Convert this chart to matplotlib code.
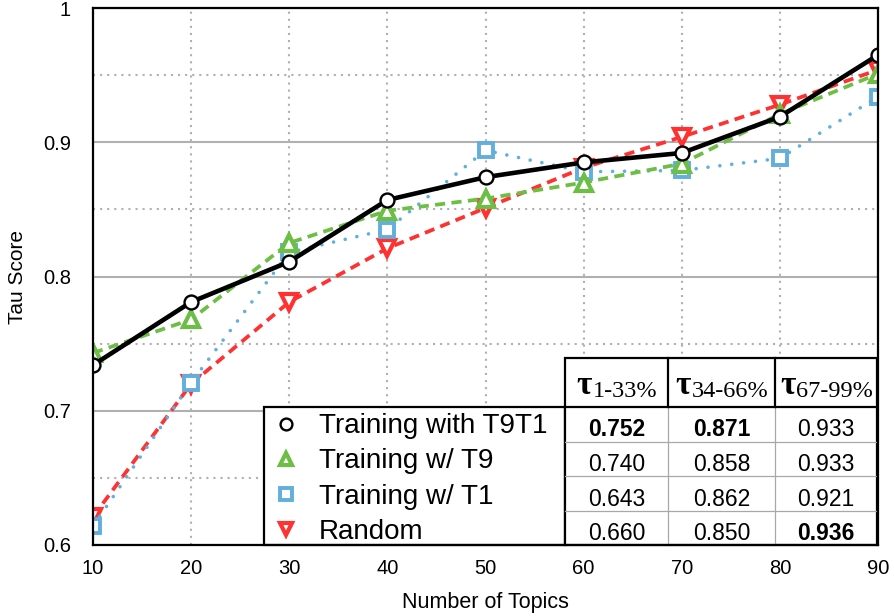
import matplotlib
matplotlib.use('Agg')
import matplotlib.pyplot as plt
from matplotlib.lines import Line2D
from matplotlib.patches import Rectangle

# ---------------- data ----------------
topics = [10, 20, 30, 40, 50, 60, 70, 80, 90]
tau_t9t1 = [0.734, 0.781, 0.811, 0.857, 0.874, 0.885, 0.892, 0.919, 0.965]
tau_t9 = [0.743, 0.768, 0.825, 0.849, 0.858, 0.870, 0.884, 0.921, 0.951]
tau_t1 = [0.614, 0.721, 0.818, 0.835, 0.894, 0.878, 0.879, 0.888, 0.934]
tau_random = [0.621, 0.720, 0.781, 0.821, 0.851, 0.881, 0.904, 0.928, 0.954]
series_labels = ['Training with T9T1', 'Training w/ T9', 'Training w/ T1', 'Random']

x_ticks = [10, 20, 30, 40, 50, 60, 70, 80, 90]
y_ticks = [0.6, 0.7, 0.8, 0.9, 1.0]
y_tick_labels = ['0.6', '0.7', '0.8', '0.9', '1']
y_minor_ticks = [0.65, 0.75, 0.85, 0.95]

table_col_subs = ['1-33%', '34-66%', '67-99%']
table_t9t1 = [0.752, 0.871, 0.933]
table_t9 = [0.740, 0.858, 0.933]
table_t1 = [0.643, 0.862, 0.921]
table_random = [0.660, 0.850, 0.936]

# ---------------- style ----------------
plt.rcParams['font.family'] = ['Liberation Sans', 'DejaVu Sans']

W, H = 895, 616
fig = plt.figure(figsize=(W / 100, H / 100), dpi=100)
L, R, T, B = 93, 878, 8, 545
ax = fig.add_axes([L / W, 1 - B / H, (R - L) / W, (B - T) / H])


def P(x, y):
    """pixel position -> axes fraction"""
    return ((x - L) / (R - L), (B - y) / (B - T))


GREEN = '#6DBE45'
BLUE = '#62AEDD'
RED = '#FF3131'
GRID = '#b0b0b0'

styles = [
    dict(color='black', lw=3.3, ls='-', marker='o', ms=10, mfc='white', mec='black', mew=1.7, zorder=6),
    dict(color=GREEN, lw=2.7, ls=(0, (2.7, 1.7)), marker='^', ms=11, mfc='white', mec=GREEN, mew=3.0, zorder=5),
    dict(color=BLUE, lw=2.6, ls=(0, (0.01, 3.3)), dash_capstyle='round', marker='s', ms=9.5, mfc='white', mec=BLUE, mew=2.8, zorder=4),
    dict(color=RED, lw=2.7, ls=(0, (2.7, 1.7)), marker='v', ms=11, mfc='white', mec=RED, mew=3.0, zorder=3),
]
series = [tau_t9t1, tau_t9, tau_t1, tau_random]

for vals, st in zip(series, styles):
    ax.plot(topics, vals, **st)

ax.set_xlim(10, 90)
ax.set_ylim(0.6, 1.0)
ax.set_xticks(x_ticks)
ax.set_xticklabels([str(t) for t in x_ticks])
ax.set_yticks(y_ticks)
ax.set_yticklabels(y_tick_labels)
ax.set_yticks(y_minor_ticks, minor=True)
ax.tick_params(axis='both', which='both', length=0, labelsize=14.5)
ax.tick_params(axis='y', pad=16)
ax.tick_params(axis='x', pad=10)

ax.set_axisbelow(True)
ax.yaxis.grid(True, which='major', color=GRID, lw=1.5, ls='-')
ax.yaxis.grid(True, which='minor', color=GRID, lw=1.5, ls=(0, (1, 2.4)))
ax.xaxis.grid(True, which='major', color=GRID, lw=1.5, ls=(0, (1, 2.4)))

for sp in ax.spines.values():
    sp.set_linewidth(1.6)
    sp.set_zorder(20)

ax.set_xlabel('Number of Topics', fontsize=15.5, labelpad=10)
ax.set_ylabel('Tau Score', fontsize=15, labelpad=11)

# ---------------- legend box + table ----------------
ZT = 10
x0, y0 = P(264, 545)
x1, y1 = P(565, 407)
ax.add_patch(Rectangle((x0, y0), x1 - x0, y1 - y0, transform=ax.transAxes,
                       facecolor='white', edgecolor='black', lw=1.6, zorder=ZT, clip_on=False))
tx0, ty0 = P(565, 545)
tx1, ty1 = P(877, 358)
ax.add_patch(Rectangle((tx0, ty0), tx1 - tx0, ty1 - ty0, transform=ax.transAxes,
                       facecolor='white', edgecolor='black', lw=1.6, zorder=ZT, clip_on=False))

col_edges = [565, 668, 775, 877]
header_top, header_bot = 358, 407
row_h = (545 - 407) / 4


def hline(xa, xb, y, **kw):
    (a, yy), (b, _) = P(xa, y), P(xb, y)
    ax.add_line(Line2D([a, b], [yy, yy], transform=ax.transAxes, clip_on=False, **kw))


def vline(x, ya, yb, **kw):
    (xx, a), (_, b) = P(x, ya), P(x, yb)
    ax.add_line(Line2D([xx, xx], [a, b], transform=ax.transAxes, clip_on=False, **kw))


hline(565, 877, header_bot, color='black', lw=1.6, zorder=ZT + 2)
for cx in col_edges[1:-1]:
    vline(cx, header_top, header_bot, color='black', lw=1.6, zorder=ZT + 2)
    vline(cx, header_bot, 545, color='#a8a8a8', lw=0.9, zorder=ZT + 1)
for i in range(1, 4):
    hline(565, 877, header_bot + i * row_h, color='#a8a8a8', lw=0.9, zorder=ZT + 1)

table_rows = [table_t9t1, table_t9, table_t1, table_random]
col_max = [max(r[j] for r in table_rows) for j in range(3)]
for i, row in enumerate(table_rows):
    for j, v in enumerate(row):
        cx = (col_edges[j] + col_edges[j + 1]) / 2
        by = header_bot + i * row_h + 29.5
        ax.text(*P(cx, by), f'{v:.3f}', transform=ax.transAxes, ha='center', va='baseline',
                fontsize=16.5, fontweight='bold' if v == col_max[j] else 'normal', zorder=ZT + 3)

# header: tau with subscript
fig.canvas.draw()
renderer = fig.canvas.get_renderer()
for j, sub in enumerate(table_col_subs):
    cx = (col_edges[j] + col_edges[j + 1]) / 2
    t1 = ax.text(0, 0, 'τ', transform=ax.transAxes, fontsize=24, family='Liberation Serif',
                 fontweight='bold', ha='left', va='baseline', zorder=ZT + 3)
    t2 = ax.text(0, 0, sub, transform=ax.transAxes, fontsize=17.5, family='Liberation Serif',
                 ha='left', va='baseline', zorder=ZT + 3)
    w1 = t1.get_window_extent(renderer).width
    w2 = t2.get_window_extent(renderer).width
    start = cx - (w1 + w2) / 2
    t1.set_position(P(start, 393.5))
    t2.set_position(P(start + w1 + 1, 397))

handles = [Line2D([], [], ls='none', marker=st['marker'], ms=st['ms'] * 0.85, mfc='white',
                  mec=st['mec'], mew=st['mew']) for st in styles]
leg = ax.legend(handles, series_labels, loc='upper left', bbox_to_anchor=P(264, 405),
                borderaxespad=0, borderpad=0.3, frameon=False, fontsize=20, handlelength=0.95,
                handletextpad=0.72, labelspacing=0.33)
leg.set_zorder(ZT + 4)

fig.savefig('out.png', dpi=100)
